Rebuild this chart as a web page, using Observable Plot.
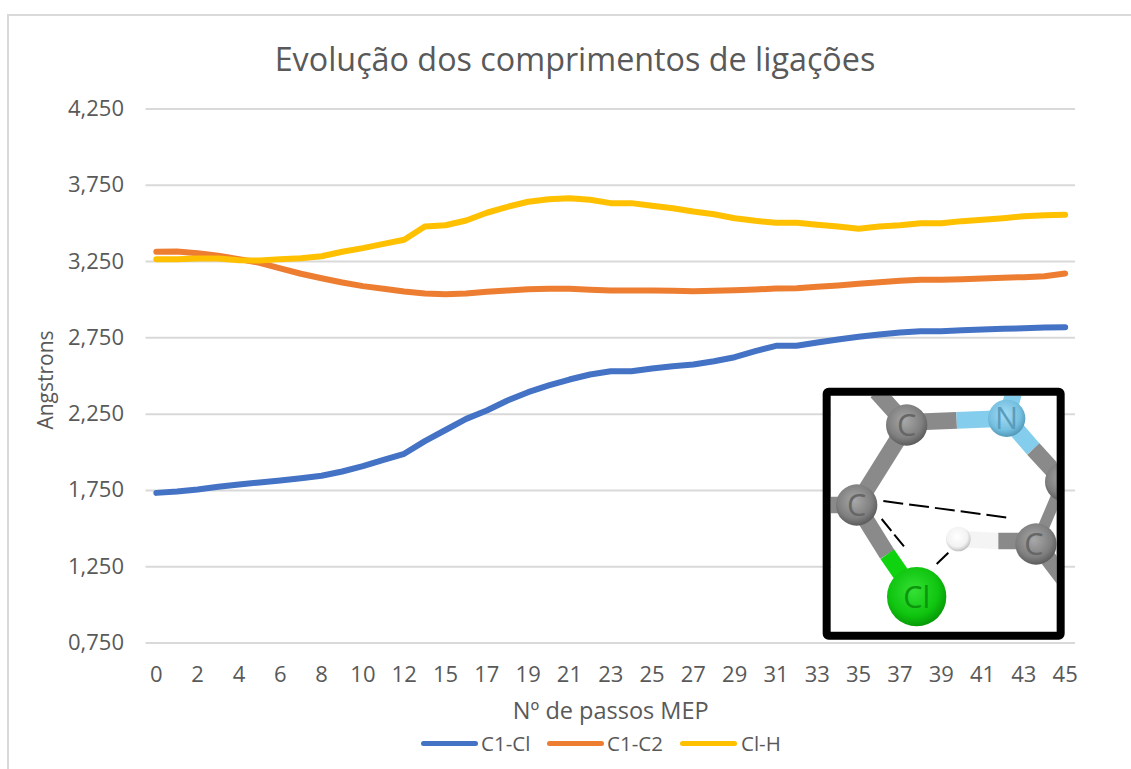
<!DOCTYPE html>
<html lang="pt">
<head>
<meta charset="utf-8">
<script src="https://cdn.jsdelivr.net/npm/d3@7"></script>
<script src="https://cdn.jsdelivr.net/npm/@observablehq/plot@0.6"></script>
<style>
  html, body { margin: 0; padding: 0; background: #fff; width: 1131px; height: 769px; overflow: hidden; }
  body { position: relative; font-family: "Open Sans", sans-serif; color: #595959; }
  #frame { position: absolute; left: 7px; top: 14px; right: 0; bottom: 0; border-left: 2px solid #d9d9d9; border-top: 2px solid #d9d9d9; }
  #title { position: relative; height: 88px; box-sizing: border-box; padding-top: 36px; text-align: center; width: 1150px; font-size: 32.3px; line-height: 44px; white-space: nowrap; }
  #chart { position: relative; height: 640px; }
  #chart svg { display: block; }
  #legend { position: absolute; left: 0; top: 729px; width: 1131px; height: 30px; font-size: 20.5px; line-height: 28px; }
  #legend span.s { position: absolute; top: 12px; height: 5px; width: 57px; border-radius: 3px; }
  #legend span.t { position: absolute; top: 0; }
  #inset { position: absolute; left: 810px; top: 375px; }
</style>
</head>
<body>
<div id="frame"></div>
<div id="title">Evolução dos comprimentos de ligações</div>
<div id="chart"></div>
<div id="legend"></div>
<svg id="inset" width="270" height="275" viewBox="0 0 810 825">
  <defs>
    <radialGradient id="gC" cx="45%" cy="40%" r="60%"><stop offset="0" stop-color="#a8a8a8"/><stop offset=".7" stop-color="#7f7f7f"/><stop offset="1" stop-color="#5c5c5c"/></radialGradient>
    <radialGradient id="gN" cx="45%" cy="40%" r="60%"><stop offset="0" stop-color="#a5dcf5"/><stop offset=".7" stop-color="#74bfe0"/><stop offset="1" stop-color="#5398b8"/></radialGradient>
    <radialGradient id="gCl" cx="45%" cy="40%" r="60%"><stop offset="0" stop-color="#35e035"/><stop offset=".7" stop-color="#0fc40f"/><stop offset="1" stop-color="#079a07"/></radialGradient>
    <radialGradient id="gH" cx="45%" cy="40%" r="60%"><stop offset="0" stop-color="#ffffff"/><stop offset=".7" stop-color="#f2f2f2"/><stop offset="1" stop-color="#c0c0c0"/></radialGradient>
    <clipPath id="inner"><rect x="62" y="62" width="678" height="708"/></clipPath>
  </defs>
  <rect x="62" y="62" width="678" height="708" fill="#fff"/>
  <g clip-path="url(#inner)" fill="none" stroke-width="50">
    <path d="M200 50L290 150" stroke="#8a8a8a"/>
    <path d="M62 390H140" stroke="#8a8a8a"/>
    <path d="M140 390L290 150" stroke="#8a8a8a"/>
    <path d="M290 142L440 136" stroke="#8a8a8a"/>
    <path d="M440 136L590 130" stroke="#84cdec"/>
    <path d="M590 130L612 50" stroke="#84cdec"/>
    <path d="M590 130L670 222" stroke="#84cdec"/>
    <path d="M670 222L760 320" stroke="#8a8a8a"/>
    <path d="M140 390L232 538" stroke="#8a8a8a"/>
    <path d="M232 538L320 665" stroke="#0fd30f"/>
    <path d="M445 492L565 498" stroke="#f4f4f4"/>
    <path d="M565 498H680" stroke="#8a8a8a"/>
    <path d="M680 505L760 610" stroke="#8a8a8a"/>
    <path d="M680 505L750 340" stroke="#8a8a8a" stroke-width="34"/>
    <circle cx="765" cy="320" r="60" fill="url(#gC)" stroke="none"/>
    <circle cx="290" cy="150" r="62" fill="url(#gC)" stroke="none"/>
    <circle cx="140" cy="390" r="62" fill="url(#gC)" stroke="none"/>
    <circle cx="678" cy="507" r="62" fill="url(#gC)" stroke="none"/>
    <circle cx="590" cy="130" r="56" fill="url(#gN)" stroke="none"/>
    <circle cx="320" cy="665" r="89" fill="url(#gCl)" stroke="none"/>
    <circle cx="445" cy="492" r="37" fill="url(#gH)" stroke="none"/>
  </g>
  <g stroke="#000" stroke-width="6" fill="none">
    <path d="M220 378L595 428" stroke-dasharray="60 18"/>
    <path d="M215 432L285 518" stroke-dasharray="46 14"/>
    <path d="M415 533L380 567"/>
  </g>
  <g font-family="Open Sans, sans-serif" text-anchor="middle" font-size="92" fill="#666">
    <text x="290" y="183">C</text>
    <text x="140" y="423">C</text>
    <text x="672" y="540">C</text>
    <text x="590" y="163" fill="#5a9cba">N</text>
    <text x="320" y="698" fill="#0b960b">Cl</text>
  </g>
  <rect x="50" y="50" width="702" height="732" rx="6" fill="none" stroke="#000" stroke-width="24"/>
</svg>
<script>
const steps = [0,1,2,3,4,5,6,7,8,9,10,11,12,13,15,16,17,18,19,20,21,22,23,24,25,26,27,28,29,30,31,32,33,34,35,36,37,38,39,40,41,42,43,44,45];
const c1Cl = [1.734,1.743,1.756,1.774,1.789,1.802,1.815,1.830,1.846,1.874,1.909,1.951,1.990,2.073,2.146,2.219,2.274,2.339,2.394,2.438,2.477,2.510,2.531,2.531,2.549,2.564,2.575,2.597,2.623,2.663,2.698,2.698,2.720,2.739,2.757,2.772,2.785,2.794,2.794,2.800,2.805,2.809,2.813,2.818,2.820];
const c1C2 = [3.314,3.316,3.305,3.288,3.266,3.242,3.205,3.170,3.141,3.113,3.089,3.072,3.054,3.041,3.036,3.041,3.052,3.060,3.069,3.072,3.072,3.065,3.060,3.060,3.060,3.058,3.056,3.058,3.062,3.067,3.073,3.075,3.085,3.093,3.104,3.115,3.124,3.131,3.131,3.134,3.139,3.144,3.148,3.154,3.172];
const clH = [3.266,3.266,3.270,3.270,3.259,3.257,3.266,3.272,3.285,3.314,3.338,3.366,3.393,3.480,3.488,3.519,3.570,3.609,3.642,3.659,3.665,3.655,3.633,3.633,3.616,3.600,3.578,3.560,3.534,3.517,3.504,3.504,3.491,3.480,3.465,3.480,3.488,3.501,3.501,3.515,3.524,3.534,3.547,3.554,3.557];
const seriesNames = ["C1-Cl","C1-C2","Cl-H"];
const seriesColors = ["#4472c4","#ed7d31","#ffc000"];
const seriesValues = [c1Cl, c1C2, clH];
const yTicks = [0.75,1.25,1.75,2.25,2.75,3.25,3.75,4.25];
const yTickLabels = ["0,750","1,250","1,750","2,250","2,750","3,250","3,750","4,250"];
const xTicks = [0,2,4,6,8,10,12,15,17,19,21,23,25,27,29,31,33,35,37,39,41,43,45];
const xTitle = "Nº de passos MEP";
const yTitle = "Angstrons";

const rows = seriesNames.flatMap((name, k) => steps.map((s, i) => ({step: s, value: seriesValues[k][i], series: name})));

const plot = Plot.plot({
  width: 1131,
  height: 640,
  marginTop: 20.5,
  marginBottom: 85.5,
  marginLeft: 145.5,
  marginRight: 56,
  style: {fontFamily: '"Open Sans", sans-serif', fontSize: "22px", color: "#595959", background: "transparent"},
  x: {type: "point", domain: steps, padding: 0.5, round: false},
  y: {domain: [0.75, 4.25]},
  color: {domain: seriesNames, range: seriesColors},
  marks: [
    Plot.gridY(yTicks, {stroke: "#d9d9d9", strokeOpacity: 1, strokeWidth: 2}),
    Plot.axisY({ticks: yTicks, tickSize: 0, tickPadding: 22, tickFormat: d => yTickLabels[yTicks.indexOf(d)], label: null}),
    Plot.axisX({ticks: xTicks, tickSize: 0, tickPadding: 23, label: null}),
    Plot.text([yTitle], {text: d => d, frameAnchor: "left", textAnchor: "middle", lineAnchor: "middle", rotate: -90, dx: -100, dy: 4, fontSize: 21, fill: "#595959"}),
    Plot.text([xTitle], {text: d => d, frameAnchor: "bottom", textAnchor: "middle", lineAnchor: "middle", dy: 68.5, fontSize: 23.5, fill: "#595959"}),
    Plot.line(rows, {x: "step", y: "value", z: "series", stroke: "series", strokeWidth: 6, strokeLinecap: "round", strokeLinejoin: "round", curve: "linear"})
  ]
});
document.getElementById("chart").append(plot);

const legendPos = [[421, 481], [547, 607], [680, 741]];
const legend = document.getElementById("legend");
seriesNames.forEach((name, k) => {
  const s = document.createElement("span"); s.className = "s";
  s.style.left = legendPos[k][0] + "px"; s.style.background = seriesColors[k];
  const t = document.createElement("span"); t.className = "t";
  t.style.left = legendPos[k][1] + "px"; t.textContent = name;
  legend.append(s, t);
});
</script>
</body>
</html>
